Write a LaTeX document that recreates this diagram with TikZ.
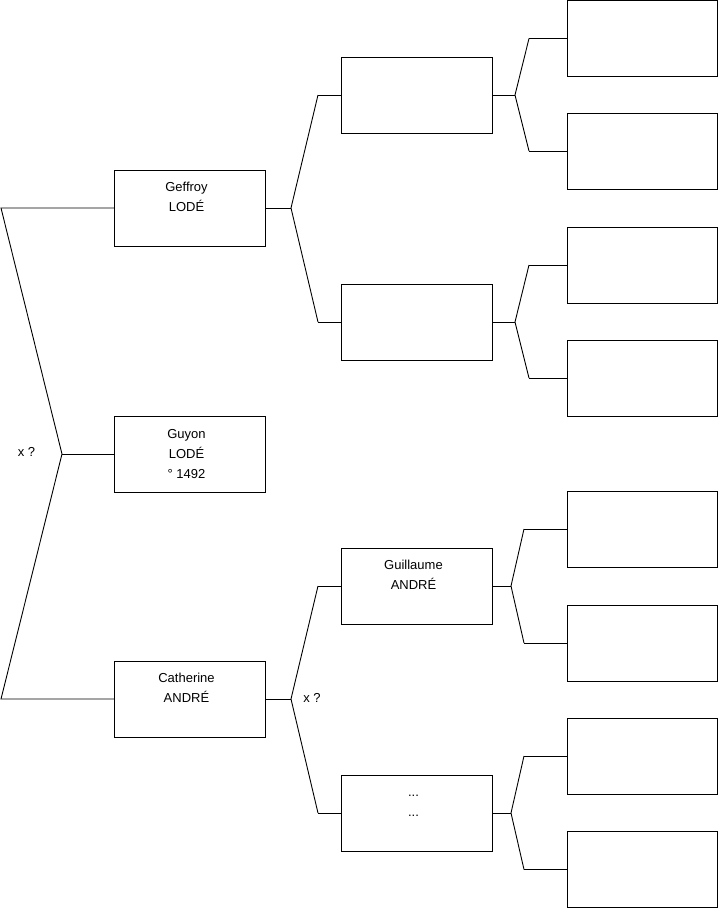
\documentclass[tikz,border=0pt]{standalone}
\usepackage{fontspec}
\setmainfont{Liberation Sans}
\begin{document}
\begin{tikzpicture}[x=1pt,y=-1pt,
  pbox/.style={draw=black, line width=0.9pt, minimum width=151pt, minimum height=76pt, inner sep=0pt, outer sep=0pt, fill=white},
  pboxr/.style={pbox, minimum width=150pt},
  txt/.style={anchor=base, inner sep=0pt, font=\fontsize{13}{20}\selectfont},
  conn/.style={draw=black, line width=0.9pt}]
\useasboundingbox (0,0) rectangle (719,908);
% column 1
\node[pbox] (geffroy) at (189.5,208) {};
\node[pbox] (guyon) at (189.5,454) {};
\node[pbox] (catherine) at (189.5,699) {};
% column 2
\node[pbox] (p21) at (416.5,95) {};
\node[pbox] (p22) at (416.5,322) {};
\node[pbox] (guillaume) at (416.5,586) {};
\node[pbox] (p24) at (416.5,813) {};
% column 3
\node[pboxr] (p31) at (642,38.5) {};
\node[pboxr] (p32) at (642,151) {};
\node[pboxr] (p33) at (642,265) {};
\node[pboxr] (p34) at (642,378) {};
\node[pboxr] (p35) at (642,529) {};
\node[pboxr] (p36) at (642,643) {};
\node[pboxr] (p37) at (642,756) {};
\node[pboxr] (p38) at (642,869.5) {};
% texts
\node[txt] (t1a) at (186.5,191) {Geffroy};
\node[txt] (t1b) at (186.5,211) {LODÉ};
\node[txt] (t2a) at (186.5,438) {Guyon};
\node[txt] (t2b) at (186.5,458) {LODÉ};
\node[txt] (t2c) at (186.5,478) {° 1492};
\node[txt] (t3a) at (186.5,682) {Catherine};
\node[txt] (t3b) at (186.5,702) {ANDRÉ};
\node[txt] (t4a) at (413.5,569) {Guillaume};
\node[txt] (t4b) at (413.5,589) {ANDRÉ};
\node[txt] (t5a) at (413.5,796) {...};
\node[txt] (t5b) at (413.5,816) {...};
\node[txt] (x1) at (26.5,456) {x ?};
\node[txt] (x2) at (312,702) {x ?};
% root fork
\coordinate (r) at (62,454);
\coordinate (rt) at (1,208);
\coordinate (rb) at (1,699);
\draw[conn] (geffroy.west) -- (rt) -- (r) -- (rb) -- (catherine.west);
\draw[conn] (r) -- (guyon.west);
% Geffroy fork
\coordinate (f1) at (291,208);
\draw[conn] (geffroy.east) -- (f1);
\draw[conn] ([xshift=-23pt]p21.west) -- (f1) -- ([xshift=-23pt]p22.west);
\draw[conn] ([xshift=-23pt]p21.west) -- (p21.west);
\draw[conn] ([xshift=-23pt]p22.west) -- (p22.west);
% Catherine fork
\coordinate (f2) at (291,699);
\draw[conn] (catherine.east) -- (f2);
\draw[conn] ([xshift=-23pt]guillaume.west) -- (f2) -- ([xshift=-23pt]p24.west);
\draw[conn] ([xshift=-23pt]guillaume.west) -- (guillaume.west);
\draw[conn] ([xshift=-23pt]p24.west) -- (p24.west);
% column 2 forks (upper)
\foreach \s/\a/\b in {p21/p31/p32, p22/p33/p34}{
  \draw[conn] (\s.east) -- ([xshift=23pt]\s.east);
  \draw[conn] ([xshift=-38pt]\a.west) -- ([xshift=23pt]\s.east) -- ([xshift=-38pt]\b.west);
  \draw[conn] ([xshift=-38pt]\a.west) -- (\a.west);
  \draw[conn] ([xshift=-38pt]\b.west) -- (\b.west);
}
% column 2 forks (lower)
\foreach \s/\a/\b in {guillaume/p35/p36, p24/p37/p38}{
  \draw[conn] (\s.east) -- ([xshift=19pt]\s.east);
  \draw[conn] ([xshift=-43pt]\a.west) -- ([xshift=19pt]\s.east) -- ([xshift=-43pt]\b.west);
  \draw[conn] ([xshift=-43pt]\a.west) -- (\a.west);
  \draw[conn] ([xshift=-43pt]\b.west) -- (\b.west);
}
\end{tikzpicture}
\end{document}
